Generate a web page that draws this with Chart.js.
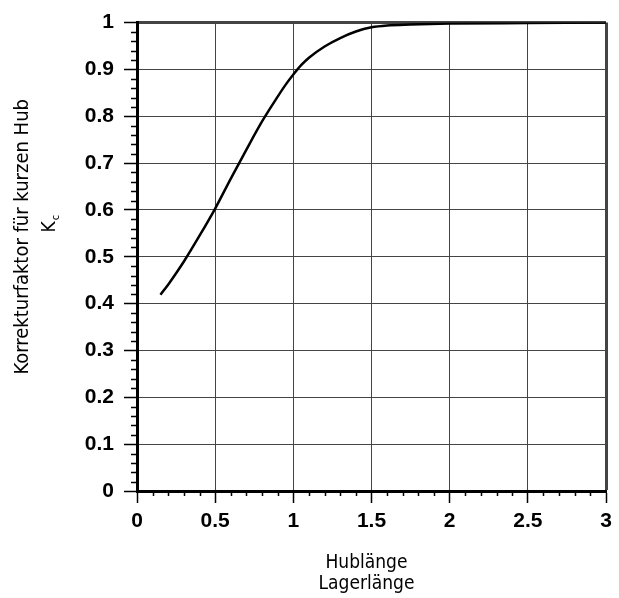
<!DOCTYPE html>
<html><head><meta charset="utf-8">
<script src="https://cdn.jsdelivr.net/npm/chart.js@4/dist/chart.umd.min.js"></script>
<style>html,body{margin:0;padding:0;background:#fff}#wrap{width:619px;height:598px}</style>
</head><body><div id="wrap"><canvas id="c" width="619" height="598"></canvas></div>
<script>
// ---- data ----
const xValues  = [0.15, 0.2, 0.25, 0.3, 0.4, 0.5, 0.6, 0.7, 0.8, 0.9, 0.95, 1.0, 1.05, 1.1, 1.2, 1.3, 1.4, 1.5, 1.6, 1.75, 2.0, 2.5, 3.0];
const kcValues = [0.419, 0.441, 0.465, 0.490, 0.545, 0.603, 0.667, 0.729, 0.789, 0.842, 0.867, 0.889, 0.909, 0.925, 0.949, 0.967, 0.981, 0.990, 0.994, 0.996, 0.998, 0.999, 1.0];
const xTickLabels = ['0', '0.5', '1', '1.5', '2', '2.5', '3'];
const yTickLabels = ['0', '0.1', '0.2', '0.3', '0.4', '0.5', '0.6', '0.7', '0.8', '0.9', '1'];
const xTitleLines = ['Hublänge', 'Lagerlänge'];
const yTitleLine1 = 'Korrekturfaktor für kurzen Hub';
const yTitleMain = 'K';
const yTitleSub = 'c';

const TICK_FONT = {family: '"Liberation Sans", Arial, sans-serif', size: 21, weight: 'bold'};
const TITLE_FAMILY = '"DejaVu Sans Condensed", "Liberation Sans Narrow", sans-serif';

const points = xValues.map((x, i) => ({x: x, y: kcValues[i]}));

const decorPlugin = {
  id: 'decor',
  afterDraw(chart) {
    const ctx = chart.ctx;
    const xs = chart.scales.x, ys = chart.scales.y;
    const ca = chart.chartArea;
    ctx.save();
    // minor ticks
    ctx.strokeStyle = '#000';
    ctx.lineWidth = 1.5;
    ctx.beginPath();
    for (let i = 0; i <= 50; i++) {
      if (i % 5 === 0) continue;
      const py = Math.round(ys.getPixelForValue(i * 0.02)) + 0.5;
      ctx.moveTo(ca.left - 6, py); ctx.lineTo(ca.left, py);
    }
    for (let i = 0; i <= 30; i++) {
      if (i % 5 === 0) continue;
      const px = Math.round(xs.getPixelForValue(i * 0.1)) + 0.5;
      ctx.moveTo(px, ca.bottom); ctx.lineTo(px, ca.bottom + 5);
    }
    ctx.stroke();
    // x title
    ctx.fillStyle = '#000';
    ctx.font = '19px ' + TITLE_FAMILY;
    ctx.textAlign = 'center';
    ctx.textBaseline = 'alphabetic';
    const cx = (ca.left + ca.right) / 2 - 5;
    ctx.fillText(xTitleLines[0], cx, 568);
    ctx.fillText(xTitleLines[1], cx, 589);
    // y title (rotated)
    const cy = (ca.top + ca.bottom) / 2 - 20;
    ctx.translate(28, cy);
    ctx.rotate(-Math.PI / 2);
    ctx.font = '20px ' + TITLE_FAMILY;
    ctx.textAlign = 'center';
    ctx.fillText(yTitleLine1, 0, 0);
    ctx.restore();
    ctx.save();
    ctx.fillStyle = '#000';
    ctx.translate(55, cy - 13);
    ctx.rotate(-Math.PI / 2);
    ctx.font = '19px ' + TITLE_FAMILY;
    ctx.textAlign = 'left';
    ctx.textBaseline = 'alphabetic';
    const kw = ctx.measureText(yTitleMain).width;
    const sw = 6;
    ctx.fillText(yTitleMain, -(kw + sw) / 2, 0);
    ctx.font = '11px ' + TITLE_FAMILY;
    ctx.fillText(yTitleSub, -(kw + sw) / 2 + kw + 1, 4);
    ctx.restore();
  }
};

new Chart(document.getElementById('c'), {
  type: 'line',
  data: {
    datasets: [{
      data: points,
      borderColor: '#000',
      borderWidth: 2.5,
      pointRadius: 0,
      fill: false,
      cubicInterpolationMode: 'monotone'
    }]
  },
  options: {
    responsive: false,
    devicePixelRatio: 1,
    animation: false,
    layout: {padding: {left: 0, top: 22, right: 13, bottom: 0}},
    plugins: {legend: {display: false}, tooltip: {enabled: false}},
    scales: {
      x: {
        type: 'linear', min: 0, max: 3,
        afterFit(s) { s.height = 107; },
        ticks: {
          stepSize: 0.5, color: '#000', font: TICK_FONT, padding: 6, maxRotation: 0,
          callback: (v, i) => xTickLabels[Math.round(v * 2)]
        },
        grid: {
          color: '#444', tickColor: '#000', tickLength: 12, tickWidth: 1.5,
          lineWidth: c => (c.tick && c.tick.value === 3) ? 3 : 1
        },
        border: {display: true, color: '#000', width: 3}
      },
      y: {
        type: 'linear', min: 0, max: 1,
        afterFit(s) { s.width = 137; },
        ticks: {
          stepSize: 0.1, color: '#000', font: TICK_FONT, padding: 10,
          callback: (v) => yTickLabels[Math.round(v * 10)]
        },
        grid: {
          color: '#444', tickColor: '#000', tickLength: 13, tickWidth: 1.5,
          lineWidth: c => (c.tick && Math.abs(c.tick.value - 1) < 1e-9) ? 3 : 1
        },
        border: {display: true, color: '#000', width: 3}
      }
    }
  },
  plugins: [decorPlugin]
});
</script>
</body></html>
